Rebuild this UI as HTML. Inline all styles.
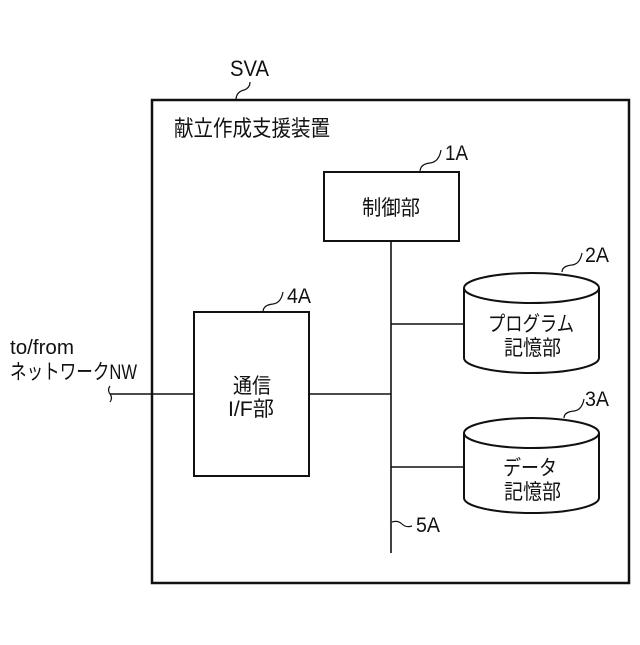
<!DOCTYPE html>
<html><head><meta charset="utf-8"><style>
html,body{margin:0;padding:0;background:#fff}
svg text{font-family:"Liberation Sans","Noto Sans CJK JP",sans-serif;fill:#111}
</style></head><body>
<svg width="640" height="640" viewBox="0 0 640 640" xmlns="http://www.w3.org/2000/svg">
<g fill="none" stroke="#111">
<rect x="152" y="100" width="477" height="483" stroke-width="2.5"/>
<rect x="324" y="172" width="135" height="69" stroke-width="2"/>
<rect x="194" y="312" width="115" height="164" stroke-width="2"/>
<line x1="391" y1="241" x2="391" y2="553" stroke-width="1.6"/>
<line x1="391" y1="324" x2="464" y2="324" stroke-width="1.6"/>
<line x1="391" y1="467" x2="464" y2="467" stroke-width="1.6"/>
<line x1="309" y1="394" x2="391" y2="394" stroke-width="1.6"/>
<line x1="110" y1="394" x2="194" y2="394" stroke-width="1.6"/>
<path d="M110 386 q-3 4 0 8 q3 4 0 8" stroke-width="1.2"/>
<!-- cylinder 2A -->
<path d="M464 288 v70 a67.5 15 0 0 0 135 0 v-70" stroke-width="2"/>
<ellipse cx="531.5" cy="288" rx="67.5" ry="15" stroke-width="2"/>
<!-- cylinder 3A -->
<path d="M464 433 v65 a67.5 15 0 0 0 135 0 v-65" stroke-width="2"/>
<ellipse cx="531.5" cy="433" rx="67.5" ry="15" stroke-width="2"/>
<!-- leaders -->
<path d="M236 100 q0 -8 8 -10 q6 -2 6 -8" stroke-width="1.2"/>
<path d="M420 172 q0 -8 10 -9 q9 -1 11 -13" stroke-width="1.2"/>
<path d="M562 272 q0 -6 10 -7 q8 -1 10 -12" stroke-width="1.2"/>
<path d="M263 312 q0 -7 10 -8 q8 -1 10 -12" stroke-width="1.2"/>
<path d="M564 418 q0 -6 10 -7 q8 -1 10 -12" stroke-width="1.2"/>
<path d="M392 522 q6 -2 10 2 q4 4 10 2" stroke-width="1.2"/>
</g>
<g font-size="22">
<text x="230" y="76" textLength="39" lengthAdjust="spacingAndGlyphs">SVA</text>
<text x="174" y="136" textLength="156" lengthAdjust="spacingAndGlyphs">献立作成支援装置</text>
<text x="445" y="160" font-size="21" textLength="23" lengthAdjust="spacingAndGlyphs">1A</text>
<text x="585" y="262" font-size="21" textLength="24" lengthAdjust="spacingAndGlyphs">2A</text>
<text x="287" y="303" font-size="21" textLength="24" lengthAdjust="spacingAndGlyphs">4A</text>
<text x="585" y="406" font-size="21" textLength="24" lengthAdjust="spacingAndGlyphs">3A</text>
<text x="416" y="532" font-size="21" textLength="24" lengthAdjust="spacingAndGlyphs">5A</text>
<text x="362" y="215" font-size="21" textLength="58" lengthAdjust="spacingAndGlyphs">制御部</text>
<text x="488" y="331" font-size="21" textLength="86" lengthAdjust="spacingAndGlyphs">プログラム</text>
<text x="504" y="355" font-size="21" textLength="57" lengthAdjust="spacingAndGlyphs">記憶部</text>
<text x="503" y="475" font-size="21" textLength="54" lengthAdjust="spacingAndGlyphs">データ</text>
<text x="504" y="499" font-size="21" textLength="57" lengthAdjust="spacingAndGlyphs">記憶部</text>
<text x="233" y="393" font-size="21" textLength="38" lengthAdjust="spacingAndGlyphs">通信</text>
<text x="228" y="416" font-size="21" textLength="46" lengthAdjust="spacingAndGlyphs">I/F部</text>
<text x="10" y="354" font-size="20" textLength="64" lengthAdjust="spacingAndGlyphs">to/from</text>
<text x="10" y="379" font-size="21" textLength="127" lengthAdjust="spacingAndGlyphs">ネットワークNW</text>
</g>
</svg>
</body></html>
